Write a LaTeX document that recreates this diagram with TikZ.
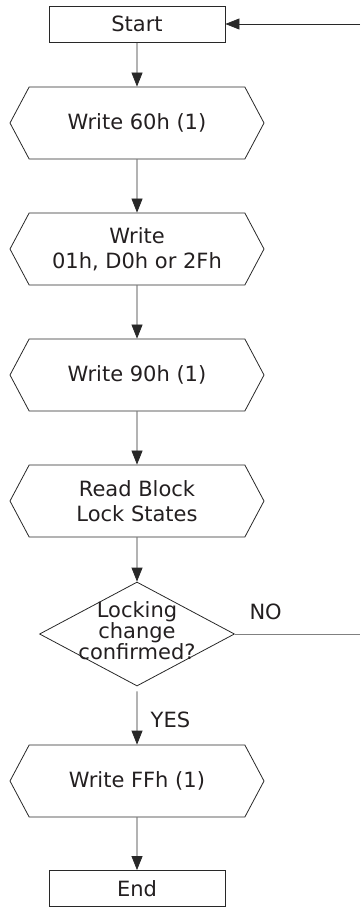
\documentclass[tikz,border=0pt]{standalone}
\usepackage{fontspec}
\setmainfont{DejaVu Sans}
\usetikzlibrary{arrows.meta,shapes.symbols,shapes.geometric}
\tikzset{>={Triangle[length=14pt,width=11pt]}}
\definecolor{linegray}{RGB}{40, 40, 40}
\definecolor{nogray}{RGB}{128, 128, 128}
\definecolor{fontdark}{RGB}{35, 31, 32}
\tikzset{
  endbox/.style={draw=linegray, line width=0.8pt, minimum width=176pt, minimum height=36pt, inner sep=0pt},
  hexbox/.style={draw=linegray, line width=0.8pt, signal, signal to=west and east, signal pointer angle=124,
    minimum width=254pt, minimum height=72pt, inner sep=0pt, align=center},
  askbox/.style={draw=linegray, line width=0.8pt, diamond, aspect=1.875, minimum width=195pt, minimum height=104pt,
    inner sep=0pt},
  asktext/.style={inner sep=0pt, align=center, font=\fontsize{21}{16.5}\selectfont},
  flow/.style={->, draw=linegray, line width=0.8pt}
}

\begin{document}
\begin{tikzpicture}[x=1pt, y=1pt, text=fontdark, font=\fontsize{21}{25}\selectfont]
\useasboundingbox (0,0) rectangle (360,-907);
\node[endbox] (start) at (137,-24) {Start};
\node[hexbox] (w60) at (137,-123) {Write 60h (1)};
\node[hexbox] (wcmd) at (137,-249) {Write\\01h, D0h or 2Fh};
\node[hexbox] (w90) at (137,-375) {Write 90h (1)};
\node[hexbox] (rlock) at (137,-501) {Read Block\\Lock States};
\node[askbox] (chk) at (137,-634) {};
\node[asktext] (chktxt) at (137,-630.5) {Locking\\change\\confirmed?};
\node[hexbox] (wff) at (137,-781) {Write FFh (1)};
\node[endbox] (stop) at (137,-888.5) {End};
\coordinate (noout) at (360,-634);
\coordinate (loopin) at (360,-24);
% main flow
\draw[flow] (start) -- (w60);
\draw[flow] (w60) -- (wcmd);
\draw[flow] (wcmd) -- (w90);
\draw[flow] (w90) -- (rlock);
\draw[flow] (rlock) -- (chk);
\draw[flow, shorten <=5pt] (chk) -- node[anchor=base west, xshift=10pt, yshift=-11.5pt] {YES} (wff);
\draw[flow] (wff) -- (stop);
% loop back
\draw[nogray, line width=0.8pt] (chk.east) -- (noout);
\node[anchor=base west] (nolbl) at (246,-619) {NO};
\draw[flow] (loopin) -- (start);
\end{tikzpicture}
\end{document}
